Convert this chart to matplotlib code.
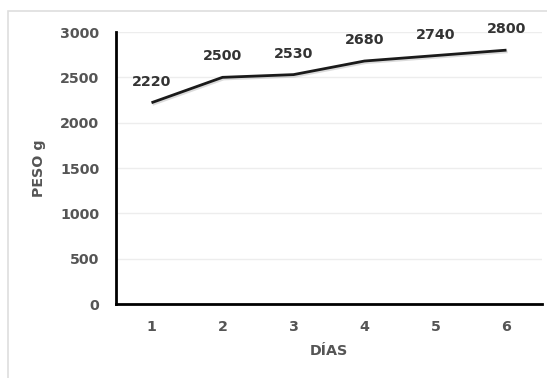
import matplotlib
matplotlib.use("Agg")
import matplotlib.pyplot as plt
import matplotlib.patheffects as pe
from matplotlib.patches import Rectangle

dias = ["1", "2", "3", "4", "5", "6"]
peso = [2220, 2500, 2530, 2680, 2740, 2800]
y_ticks = [0, 500, 1000, 1500, 2000, 2500, 3000]

plt.rcParams["font.family"] = ["DejaVu Sans"]
plt.rcParams["font.weight"] = "bold"

W, H = 547, 378
fig = plt.figure(figsize=(W / 100, H / 100), dpi=100)
fig.patch.set_facecolor("white")

# light chart-area border
fig.add_artist(Rectangle((8 / W, -0.05), 1.1, 1 - 10.5 / H + 0.05,
                         transform=fig.transFigure, fill=False,
                         edgecolor="#dedede", linewidth=1.2))

left, right, top, bottom = 116, 542, 32, 304
ax = fig.add_axes([left / W, 1 - bottom / H, (right - left) / W, (bottom - top) / H])
x = list(range(len(dias)))
ax.plot(x, peso, color="#1a1a1a", linewidth=2.0, solid_capstyle="butt",
        path_effects=[pe.SimpleLineShadow(offset=(0.8, -1.2), shadow_color="#999999", alpha=0.35),
                      pe.Normal()])

for xi, v in zip(x, peso):
    ax.annotate(str(v), (xi, v), xytext=(0, 15), textcoords="offset points",
                ha="center", va="center", fontsize=10.3, fontweight="bold",
                color="#333333")

ax.set_xlim(-0.5, len(dias) - 0.5)
ax.set_ylim(0, 3000)
ax.set_xticks(x)
ax.set_xticklabels(dias)
ax.set_yticks(y_ticks)
ax.grid(axis="y", color="#ededed", linewidth=1.0)
ax.set_axisbelow(True)

for s in ["top", "right"]:
    ax.spines[s].set_visible(False)
for s in ["left", "bottom"]:
    ax.spines[s].set_color("#000000")
    ax.spines[s].set_linewidth(2.0)

ax.tick_params(axis="both", length=0, labelsize=10.3, labelcolor="#555555")
ax.tick_params(axis="y", pad=12)
ax.tick_params(axis="x", pad=11.5)
for lab in ax.get_xticklabels() + ax.get_yticklabels():
    lab.set_fontweight("bold")

ax.set_xlabel("DÍAS", fontsize=10.3, fontweight="bold", color="#555555", labelpad=7)
ax.set_ylabel("PESO g", fontsize=10.3, fontweight="bold", color="#555555", labelpad=10)

fig.savefig("out.png", dpi=100, facecolor="white")
